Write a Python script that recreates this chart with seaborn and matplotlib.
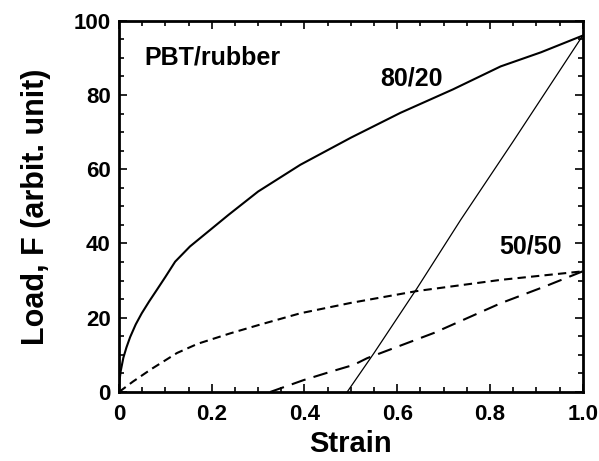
import matplotlib
matplotlib.use("Agg")
import matplotlib.pyplot as plt
import seaborn as sns
import pandas as pd
from matplotlib.ticker import MultipleLocator

# 80/20 loading curve
x_8020_load = [0.0, 0.001, 0.0036, 0.0093, 0.016, 0.024, 0.036, 0.049, 0.065, 0.081, 0.1, 0.121, 0.153, 0.197, 0.236, 0.3, 0.391, 0.5, 0.607, 0.72, 0.823, 0.91, 1.0]
y_8020_load = [0.0, 3.0, 5.6, 9.2, 12.0, 14.8, 18.2, 21.2, 24.4, 27.4, 31.0, 35.1, 39.2, 43.7, 47.7, 54.0, 61.2, 68.5, 75.2, 81.5, 87.7, 91.5, 96.0]
# 80/20 unloading curve
x_8020_unload = [0.492, 0.55, 0.643, 0.737, 0.85, 1.0]
y_8020_unload = [0.0, 10.5, 28.0, 46.4, 67.5, 96.0]
# 50/50 loading curve
x_5050_load = [0.0, 0.03, 0.07, 0.125, 0.17, 0.24, 0.3, 0.391, 0.5, 0.643, 0.823, 1.0]
y_5050_load = [0.0, 2.8, 6.2, 10.5, 13.0, 15.8, 18.0, 21.2, 24.0, 27.2, 30.2, 32.5]
# 50/50 unloading curve
x_5050_unload = [0.326, 0.398, 0.46, 0.506, 0.535, 0.679, 0.823, 0.92, 1.0]
y_5050_unload = [0.0, 3.2, 5.6, 7.3, 9.1, 15.9, 23.9, 28.5, 32.5]

sns.set_style("ticks")
plt.rcParams['font.family'] = ['Liberation Sans', 'DejaVu Sans']
plt.rcParams['font.weight'] = 'bold'
plt.rcParams['text.color'] = 'black'
plt.rcParams['axes.labelcolor'] = 'black'
plt.rcParams['xtick.color'] = 'black'
plt.rcParams['ytick.color'] = 'black'
plt.rcParams['axes.edgecolor'] = 'black'

fig = plt.figure(figsize=(5.99, 4.61), dpi=100)
ax = fig.add_axes([0.1987, 0.1497, 0.9728 - 0.1987, 0.955 - 0.1497])

curves = [
    (x_8020_load, y_8020_load, dict(color="black", lw=1.5, linestyle="-")),
    (x_8020_unload, y_8020_unload, dict(color="black", lw=0.9, linestyle="-")),
    (x_5050_load, y_5050_load, dict(color="black", lw=1.5, dashes=(4, 2.5))),
    (x_5050_unload, y_5050_unload, dict(color="black", lw=1.5, dashes=(7, 4))),
]
for xs, ys, kw in curves:
    df = pd.DataFrame({"Strain": xs, "Load": ys})
    sns.lineplot(data=df, x="Strain", y="Load", ax=ax, sort=False, estimator=None, **kw)

ax.set_xlim(0, 1.0)
ax.set_ylim(0, 100)
ax.xaxis.set_major_locator(MultipleLocator(0.2))
ax.xaxis.set_minor_locator(MultipleLocator(0.05))
ax.yaxis.set_major_locator(MultipleLocator(20))
ax.yaxis.set_minor_locator(MultipleLocator(5))
ax.set_xticks([0, 0.2, 0.4, 0.6, 0.8, 1.0])
ax.set_xticklabels(["0", "0.2", "0.4", "0.6", "0.8", "1.0"])
ax.tick_params(which="both", direction="in", top=True, right=True, width=1.2,
               labelsize=16, color="black", labelcolor="black")
ax.tick_params(which="major", length=6)
ax.tick_params(which="minor", length=3.5)
ax.tick_params(axis="x", which="major", pad=9)
ax.tick_params(axis="y", which="major", pad=6)
for lab in ax.get_xticklabels() + ax.get_yticklabels():
    lab.set_fontweight("bold")
for s in ax.spines.values():
    s.set_linewidth(2)
    s.set_color("black")
    s.set_visible(True)

ax.set_xlabel("Strain", fontsize=21, fontweight="bold", labelpad=3, color="black")
ax.set_ylabel("Load, F (arbit. unit)", fontsize=22, fontweight="bold", labelpad=16, color="black")

ax.text(0.055, 90, "PBT/rubber", fontsize=18, fontweight="bold", va="center", ha="left", color="black")
ax.text(0.63, 84.5, "80/20", fontsize=18, fontweight="bold", va="center", ha="center", color="black")
ax.text(0.888, 39.2, "50/50", fontsize=18, fontweight="bold", va="center", ha="center", color="black")

fig.savefig("out.png", dpi=100)
